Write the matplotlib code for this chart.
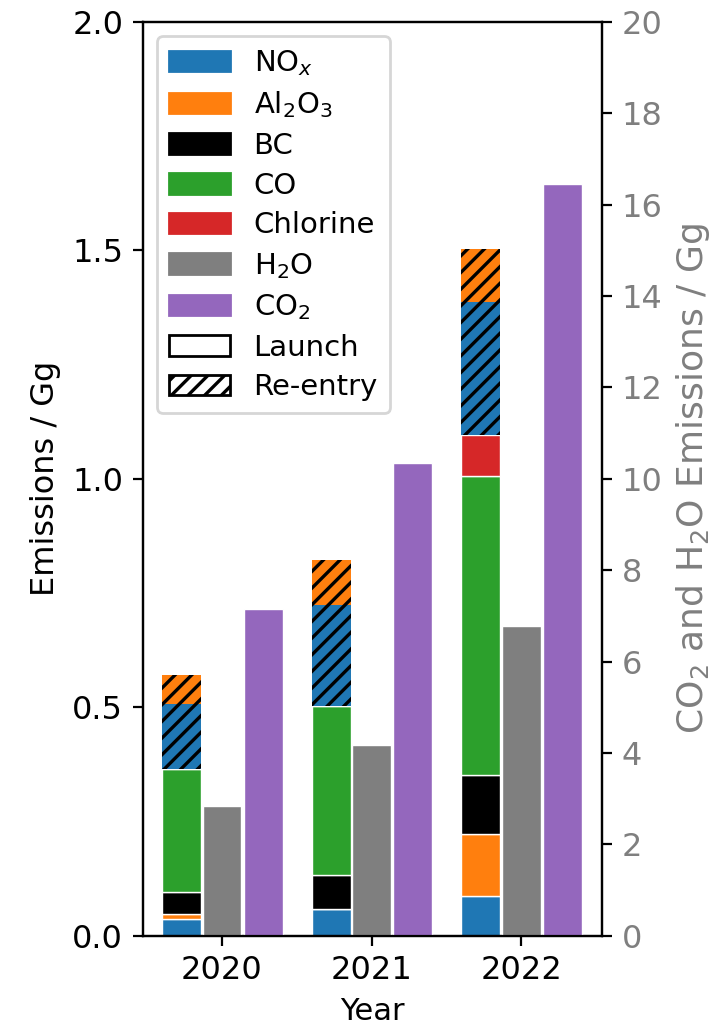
import numpy as np
import matplotlib.pyplot as plt
from matplotlib.patches import Patch

plt.rcParams['font.size'] = 11.5
plt.rcParams['hatch.linewidth'] = 1.2

# emissions in Gg
years = [2020, 2021, 2022]
nox_launch = [0.037, 0.059, 0.087]
al2o3_launch = [0.011, 0.0, 0.137]
bc_launch = [0.047, 0.074, 0.128]
co_launch = [0.270, 0.370, 0.654]
cl_launch = [0.0, 0.0, 0.090]
nox_reentry = [0.142, 0.220, 0.291]
al2o3_reentry = [0.063, 0.100, 0.115]
h2o = [2.85, 4.18, 6.79]
co2 = [7.16, 10.35, 16.46]

x = np.array(years)
w = 0.26

fig = plt.figure(figsize=(3.64, 5.165), dpi=200)
ax = fig.add_axes([0.196, 0.094, 0.631, 0.885])
ax2 = ax.twinx()

bottom = np.zeros(3)
launch = [(nox_launch, 'tab:blue'), (al2o3_launch, 'tab:orange'), (bc_launch, 'black'),
          (co_launch, 'tab:green'), (cl_launch, 'tab:red')]
for vals, c in launch:
    ax.bar(x - 0.27, vals, w, bottom=bottom, color=c, edgecolor='white', linewidth=0.5)
    bottom += np.array(vals)
for vals, c in [(nox_reentry, 'tab:blue'), (al2o3_reentry, 'tab:orange')]:
    ax.bar(x - 0.27, vals, w, bottom=bottom, color=c, hatch='////', linewidth=0)
    bottom += np.array(vals)

ax2.bar(x, h2o, w, color='tab:gray', edgecolor='white', linewidth=0.5)
ax2.bar(x + 0.275, co2, w, color='tab:purple', edgecolor='white', linewidth=0.5)

ax.set_ylim(0, 2.0)
ax.set_yticks([0, 0.5, 1.0, 1.5, 2.0])
ax2.set_ylim(0, 20)
ax2.set_yticks(range(0, 21, 2))
ax.set_xticks(years)
ax.set_xlim(2019.47, 2022.54)
ax.set_xlabel('Year', fontsize=11)
ax.set_ylabel('Emissions / Gg', fontsize=11.5)
ax2.set_ylabel('CO$_2$ and H$_2$O Emissions / Gg', color='tab:gray', fontsize=13)
ax2.tick_params(axis='y', labelcolor='tab:gray')

handles = [Patch(color='tab:blue', label='NO$_x$'),
           Patch(color='tab:orange', label='Al$_2$O$_3$'),
           Patch(color='black', label='BC'),
           Patch(color='tab:green', label='CO'),
           Patch(color='tab:red', label='Chlorine'),
           Patch(color='tab:gray', label='H$_2$O'),
           Patch(color='tab:purple', label='CO$_2$'),
           Patch(facecolor='white', edgecolor='black', label='Launch'),
           Patch(facecolor='white', edgecolor='black', hatch='////', label='Re-entry')]
ax.legend(handles=handles, loc='upper left', fontsize=10.5, labelspacing=0.4,
          handlelength=2.1)

fig.savefig('out.png', dpi=200)
